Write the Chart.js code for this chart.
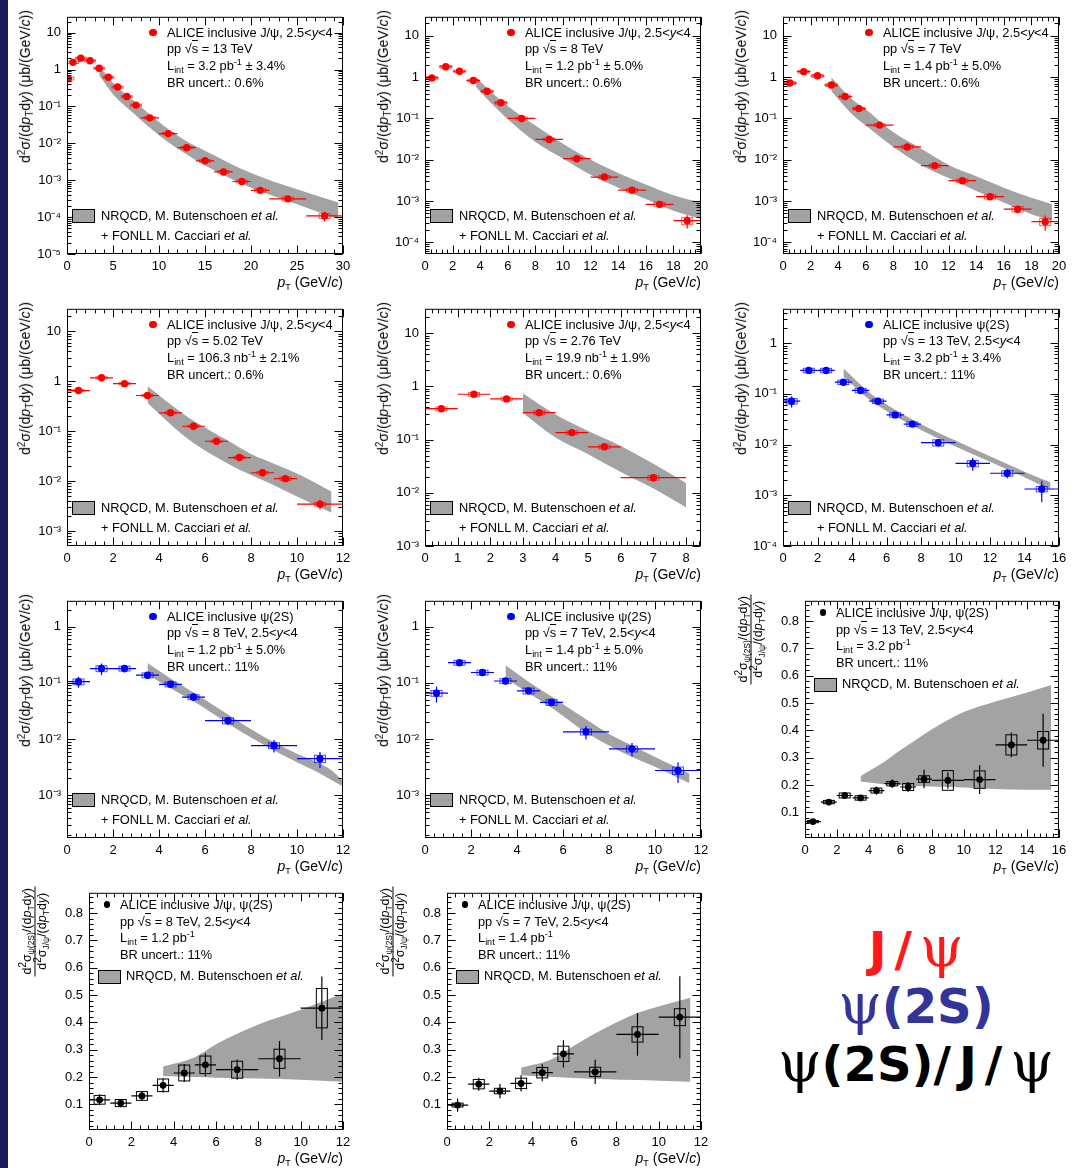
<!DOCTYPE html>
<html>
<head>
<meta charset="utf-8">
<title>ALICE inclusive J/psi and psi(2S) cross sections</title>
<script src="https://cdn.jsdelivr.net/npm/chart.js@4.4.1/dist/chart.umd.min.js"></script>
<style>
  body { margin:0; width:1084px; height:1168px; position:relative; background:#fff; overflow:hidden;
         font-family:'Liberation Sans', Arial, sans-serif; color:#000; }
  #strip { position:absolute; left:0; top:0; width:8px; height:1168px; background:#1c1c5c; }
  canvas { position:absolute; }
  .txt { position:absolute; white-space:nowrap; font-size:12.8px; line-height:14px; }
  .txt sub { font-size:9px; vertical-align:-3px; line-height:0; }
  .txt sup { font-size:9px; vertical-align:5px; line-height:0; }
  .ytl sub { font-size:10px; vertical-align:-3px; line-height:0; }
  .ytl sup { font-size:10px; vertical-align:5px; line-height:0; }
  .ov { border-top:1px solid #000; }
  .dot { position:absolute; border-radius:50%; }
  .legbox { position:absolute; background:#a3a3a3; border:1px solid #000; box-sizing:border-box; }
  .xt { font-size:14px; line-height:16px; }
  .ytitle { position:absolute; width:0; height:0; }
  .ytl { position:absolute; right:0; top:0; transform-origin:100% 0; transform:rotate(-90deg);
         white-space:nowrap; font-size:14px; line-height:16px; }
  .frac { font-size:12.5px; line-height:14px; }
  .frac sub { font-size:8.5px; }
  .frac .num { border-bottom:1px solid #000; text-align:center; padding:0 2px; }
  .frac .den { text-align:center; padding:0 2px; }
  .big { position:absolute; width:360px; left:736px; text-align:center; white-space:nowrap;
         font-family:'DejaVu Sans', Verdana, sans-serif; font-weight:bold; font-size:48px; line-height:56px; }
  .big .psi { font-family:'DejaVu Serif', 'Liberation Serif', serif; font-weight:normal; font-size:1.15em; }
  .big .sl { letter-spacing:8px; }
</style>
</head>
<body>
<div id="strip"></div>

<script>
// ─── DATA ─────────────────────────────────────────────────────
// J/psi, pp 13 TeV (ub/(GeV/c)); stat and syst are relative
const jpsi13Pt    = [0.15, 0.65, 1.5, 2.5, 3.5, 4.5, 5.5, 6.5, 7.5, 9, 11, 13, 15, 17, 19, 21, 24, 28];
const jpsi13PtErr = [0.15, 0.35, 0.5, 0.5, 0.5, 0.5, 0.5, 0.5, 0.5, 1, 1, 1, 1, 1, 1, 1, 2, 2];
const jpsi13Val   = [0.57, 1.57, 2.04, 1.74, 1.09, 0.62, 0.337, 0.186, 0.109, 0.0492, 0.0184, 0.00763, 0.00336, 0.00168, 0.000925, 0.000532, 0.000313, 0.000108];
const jpsi13Stat  = [0.05, 0.03, 0.02, 0.02, 0.02, 0.02, 0.02, 0.03, 0.03, 0.03, 0.04, 0.05, 0.07, 0.09, 0.12, 0.15, 0.15, 0.3];
const jpsi13Syst  = [0.08, 0.07, 0.06, 0.06, 0.06, 0.06, 0.06, 0.06, 0.06, 0.07, 0.07, 0.07, 0.08, 0.08, 0.09, 0.1, 0.12, 0.15];
const nrqcd13X  = [3.5, 5, 7.5, 10, 12.5, 15, 20, 25, 29.5];
const nrqcd13Hi = [1.3, 0.44, 0.129, 0.038, 0.0136, 0.00635, 0.00158, 0.000566, 0.000249];
const nrqcd13Lo = [0.7, 0.215, 0.057, 0.0166, 0.006, 0.00252, 0.000627, 0.000225, 0.0000895];

// J/psi, pp 8 TeV
const jpsi8Pt    = [0.5, 1.5, 2.5, 3.5, 4.5, 5.5, 7, 9, 11, 13, 15, 17, 19];
const jpsi8PtErr = [0.5, 0.5, 0.5, 0.5, 0.5, 0.5, 1, 1, 1, 1, 1, 1, 1];
const jpsi8Val   = [0.96, 1.79, 1.39, 0.83, 0.456, 0.24, 0.1, 0.031, 0.0106, 0.0038, 0.00183, 0.00083, 0.000334];
const jpsi8Stat  = [0.02, 0.02, 0.02, 0.02, 0.02, 0.03, 0.03, 0.04, 0.06, 0.09, 0.13, 0.18, 0.35];
const jpsi8Syst  = [0.07, 0.07, 0.07, 0.07, 0.07, 0.07, 0.08, 0.08, 0.08, 0.09, 0.1, 0.12, 0.2];
const nrqcd8X  = [3.7, 5, 6, 8, 10, 12, 14, 16, 18, 20];
const nrqcd8Hi = [1.0, 0.38, 0.2, 0.067, 0.0245, 0.01, 0.0048, 0.0025, 0.00137, 0.00091];
const nrqcd8Lo = [0.58, 0.2, 0.096, 0.027, 0.0107, 0.0043, 0.0021, 0.00112, 0.00058, 0.00037];

// J/psi, pp 7 TeV
const jpsi7Pt    = [0.5, 1.5, 2.5, 3.5, 4.5, 5.5, 7, 9, 11, 13, 15, 17, 19];
const jpsi7PtErr = [0.5, 0.5, 0.5, 0.5, 0.5, 0.5, 1, 1, 1, 1, 1, 1, 1];
const jpsi7Val   = [0.72, 1.36, 1.08, 0.645, 0.34, 0.173, 0.069, 0.0204, 0.0072, 0.0031, 0.00127, 0.000634, 0.000316];
const jpsi7Stat  = [0.02, 0.02, 0.02, 0.02, 0.03, 0.03, 0.04, 0.05, 0.07, 0.1, 0.13, 0.2, 0.4];
const jpsi7Syst  = [0.08, 0.08, 0.08, 0.08, 0.08, 0.08, 0.08, 0.09, 0.09, 0.1, 0.12, 0.15, 0.2];
const nrqcd7X  = [3.5, 5, 6, 8, 10, 12, 14, 16, 18, 19.5];
const nrqcd7Hi = [1.0, 0.29, 0.167, 0.046, 0.0186, 0.0075, 0.004, 0.0021, 0.0012, 0.00083];
const nrqcd7Lo = [0.46, 0.127, 0.067, 0.0204, 0.0075, 0.0036, 0.00175, 0.00092, 0.00048, 0.00033];

// J/psi, pp 5.02 TeV
const jpsi5Pt    = [0.5, 1.5, 2.5, 3.5, 4.5, 5.5, 6.5, 7.5, 8.5, 9.5, 11];
const jpsi5PtErr = [0.5, 0.5, 0.5, 0.5, 0.5, 0.5, 0.5, 0.5, 0.5, 0.5, 1];
const jpsi5Val   = [0.655, 1.18, 0.9, 0.52, 0.234, 0.126, 0.063, 0.0297, 0.0147, 0.0112, 0.00345];
const jpsi5Stat  = [0.02, 0.02, 0.02, 0.02, 0.03, 0.03, 0.04, 0.05, 0.07, 0.08, 0.22];
const jpsi5Syst  = [0.05, 0.05, 0.05, 0.05, 0.05, 0.05, 0.05, 0.06, 0.06, 0.08, 0.08];
const nrqcd5X  = [3.5, 5, 6, 7, 8, 9, 10, 11.5];
const nrqcd5Hi = [0.8, 0.233, 0.118, 0.065, 0.035, 0.0224, 0.0142, 0.0062];
const nrqcd5Lo = [0.37, 0.087, 0.041, 0.0224, 0.0132, 0.0083, 0.0049, 0.00232];

// J/psi, pp 2.76 TeV
const jpsi276Pt    = [0.5, 1.5, 2.5, 3.5, 4.5, 5.5, 7];
const jpsi276PtErr = [0.5, 0.5, 0.5, 0.5, 0.5, 0.5, 1];
const jpsi276Val   = [0.38, 0.71, 0.58, 0.32, 0.135, 0.073, 0.0192];
const jpsi276Stat  = [0.04, 0.03, 0.03, 0.04, 0.05, 0.08, 0.15];
const jpsi276Syst  = [0.08, 0.08, 0.08, 0.08, 0.08, 0.08, 0.1];
const nrqcd276X  = [3, 4, 5, 6, 7, 8];
const nrqcd276Hi = [0.74, 0.295, 0.145, 0.076, 0.035, 0.0153];
const nrqcd276Lo = [0.316, 0.109, 0.053, 0.0245, 0.012, 0.0053];

// psi(2S), pp 13 TeV
const psi13Pt    = [0.5, 1.5, 2.5, 3.5, 4.5, 5.5, 6.5, 7.5, 9, 11, 13, 15];
const psi13PtErr = [0.5, 0.5, 0.5, 0.5, 0.5, 0.5, 0.5, 0.5, 1, 1, 1, 1];
const psi13Val   = [0.0718, 0.291, 0.29, 0.17, 0.117, 0.0718, 0.0385, 0.0254, 0.0109, 0.00425, 0.00272, 0.00133];
const psi13Stat  = [0.25, 0.08, 0.08, 0.08, 0.08, 0.08, 0.09, 0.1, 0.12, 0.28, 0.2, 0.45];
const psi13Syst  = [0.12, 0.1, 0.1, 0.1, 0.1, 0.1, 0.1, 0.1, 0.14, 0.14, 0.12, 0.12];
const nrqcdPsi13X  = [3.5, 5, 6, 8, 10, 12, 14, 15.5];
const nrqcdPsi13Hi = [0.32, 0.107, 0.062, 0.0253, 0.012, 0.0059, 0.00293, 0.0018];
const nrqcdPsi13Lo = [0.22, 0.0775, 0.046, 0.0194, 0.0092, 0.0046, 0.00228, 0.00129];

// psi(2S), pp 8 TeV
const psi8Pt    = [0.5, 1.5, 2.5, 3.5, 4.5, 5.5, 7, 9, 11];
const psi8PtErr = [0.5, 0.5, 0.5, 0.5, 0.5, 0.5, 1, 1, 1];
const psi8Val   = [0.105, 0.18, 0.18, 0.137, 0.0944, 0.056, 0.0213, 0.0077, 0.0045];
const psi8Stat  = [0.22, 0.23, 0.15, 0.12, 0.12, 0.15, 0.15, 0.25, 0.32];
const psi8Syst  = [0.12, 0.12, 0.1, 0.1, 0.1, 0.1, 0.12, 0.12, 0.15];
const nrqcdPsi8X  = [3.5, 4.5, 5.5, 7, 8, 9, 10, 11, 11.5, 12];
const nrqcdPsi8Hi = [0.226, 0.12, 0.0675, 0.0275, 0.015, 0.0088, 0.0055, 0.00368, 0.0028, 0.0018];
const nrqcdPsi8Lo = [0.143, 0.08, 0.047, 0.019, 0.0107, 0.0063, 0.0039, 0.00246, 0.00188, 0.00144];

// psi(2S), pp 7 TeV
const psi7Pt    = [0.5, 1.5, 2.5, 3.5, 4.5, 5.5, 7, 9, 11];
const psi7PtErr = [0.5, 0.5, 0.5, 0.5, 0.5, 0.5, 1, 1, 1];
const psi7Val   = [0.0657, 0.229, 0.153, 0.108, 0.0722, 0.0452, 0.0135, 0.00673, 0.00277];
const psi7Stat  = [0.32, 0.1, 0.12, 0.12, 0.12, 0.15, 0.27, 0.27, 0.4];
const psi7Syst  = [0.12, 0.1, 0.1, 0.1, 0.12, 0.12, 0.12, 0.12, 0.15];
const nrqcdPsi7X  = [3.5, 4.5, 5.5, 7, 8, 9, 10, 11.5];
const nrqcdPsi7Hi = [0.206, 0.105, 0.0575, 0.0225, 0.0123, 0.0077, 0.0048, 0.00246];
const nrqcdPsi7Lo = [0.12, 0.066, 0.036, 0.0131, 0.0077, 0.0048, 0.00322, 0.00164];

// psi(2S)/J/psi ratios; stat and syst are absolute
const ratio13Pt    = [0.5, 1.5, 2.5, 3.5, 4.5, 5.5, 6.5, 7.5, 9, 11, 13, 15];
const ratio13PtErr = [0.5, 0.5, 0.5, 0.5, 0.5, 0.5, 0.5, 0.5, 1, 1, 1, 1];
const ratio13Val   = [0.0665, 0.138, 0.162, 0.153, 0.18, 0.205, 0.193, 0.222, 0.217, 0.22, 0.347, 0.364];
const ratio13Stat  = [0.008, 0.008, 0.01, 0.01, 0.015, 0.016, 0.018, 0.034, 0.03, 0.053, 0.045, 0.097];
const ratio13Syst  = [0.004, 0.006, 0.009, 0.008, 0.009, 0.008, 0.013, 0.012, 0.036, 0.032, 0.037, 0.032];
const nrqcdR13X  = [3.5, 5, 6, 7, 8, 10, 12, 14, 15.5];
const nrqcdR13Hi = [0.233, 0.285, 0.327, 0.366, 0.404, 0.467, 0.506, 0.539, 0.566];
const nrqcdR13Lo = [0.213, 0.203, 0.2, 0.197, 0.195, 0.191, 0.186, 0.183, 0.183];

const ratio8Pt    = [0.5, 1.5, 2.5, 3.5, 4.5, 5.5, 7, 9, 11];
const ratio8PtErr = [0.5, 0.5, 0.5, 0.5, 0.5, 0.5, 1, 1, 1];
const ratio8Val   = [0.117, 0.105, 0.131, 0.17, 0.215, 0.245, 0.227, 0.267, 0.452];
const ratio8Stat  = [0.02, 0.015, 0.018, 0.026, 0.033, 0.042, 0.037, 0.065, 0.116];
const ratio8Syst  = [0.016, 0.013, 0.016, 0.023, 0.029, 0.032, 0.031, 0.035, 0.072];
const nrqcdR8X  = [3.5, 5, 6, 8, 10, 12];
const nrqcdR8Hi = [0.239, 0.273, 0.32, 0.392, 0.446, 0.506];
const nrqcdR8Lo = [0.204, 0.2, 0.198, 0.195, 0.19, 0.183];

const ratio7Pt    = [0.5, 1.5, 2.5, 3.5, 4.5, 5.5, 7, 9, 11];
const ratio7PtErr = [0.5, 0.5, 0.5, 0.5, 0.5, 0.5, 1, 1, 1];
const ratio7Val   = [0.0976, 0.174, 0.149, 0.177, 0.216, 0.285, 0.219, 0.356, 0.419];
const ratio7Stat  = [0.024, 0.024, 0.026, 0.03, 0.031, 0.05, 0.044, 0.078, 0.15];
const ratio7Syst  = [0.007, 0.017, 0.01, 0.019, 0.019, 0.028, 0.017, 0.028, 0.031];
const nrqcdR7X  = [3.5, 5, 6, 7.5, 9, 10, 11.5];
const nrqcdR7Hi = [0.234, 0.267, 0.315, 0.38, 0.434, 0.458, 0.49];
const nrqcdR7Lo = [0.207, 0.2, 0.197, 0.192, 0.189, 0.187, 0.183];

// tick labels
const xTicks30 = [0, 5, 10, 15, 20, 25, 30];
const xTicks20 = [0, 2, 4, 6, 8, 10, 12, 14, 16, 18, 20];
const xTicks16 = [0, 2, 4, 6, 8, 10, 12, 14, 16];
const xTicks12 = [0, 2, 4, 6, 8, 10, 12];
const xTicks8  = [0, 1, 2, 3, 4, 5, 6, 7, 8];
const yTicksE5 = [1e-5, 1e-4, 1e-3, 1e-2, 1e-1, 1, 10];
const yTicksE4 = [1e-4, 1e-3, 1e-2, 1e-1, 1, 10];
const yTicksE3 = [1e-3, 1e-2, 1e-1, 1, 10];
const yTicksPsi13 = [1e-4, 1e-3, 1e-2, 1e-1, 1];
const yTicksPsi   = [1e-3, 1e-2, 1e-1, 1];
const yTicksRatio = [0.1, 0.2, 0.3, 0.4, 0.5, 0.6, 0.7, 0.8];

// ─── STYLE ────────────────────────────────────────────────────
const RED = '#ff0000', BLUE = '#0000ff', BLACK = '#000000';
const BAND = '#a3a3a3';
const YW = 48, PT = 10, PR = 14, XH = 26;   // canvas margins around the frame
const PAGE_W = 1084;

Chart.defaults.font.family = "'Liberation Sans', Arial, sans-serif";
Chart.defaults.font.size = 13;
Chart.defaults.color = '#000';

const SUP = { '-': '\u207B', '0': '\u2070', '1': '\u00B9', '2': '\u00B2', '3': '\u00B3', '4': '\u2074', '5': '\u2075', '6': '\u2076', '7': '\u2077', '8': '\u2078', '9': '\u2079' };
function logLabel(v) {
  const e = Math.round(Math.log10(v));
  if (e === 0) return '1';
  if (e === 1) return '10';
  return '10' + String(e).split('').map(c => SUP[c]).join('');
}

// error bars and systematic boxes, drawn under the markers
const errorBars = {
  id: 'errorBars',
  beforeDatasetDraw(chart, args) {
    const ds = chart.data.datasets[args.index];
    if (!ds.errors) return;
    const { ctx, chartArea: a, scales: { x, y } } = chart;
    const e = ds.errors;
    ctx.save();
    ctx.beginPath();
    ctx.rect(a.left, a.top, a.width, a.height);
    ctx.clip();
    ds.data.forEach((p, i) => {
      const px = x.getPixelForValue(p.x), py = y.getPixelForValue(p.y);
      const st = e.rel ? p.y * e.stat[i] : e.stat[i];
      const sy = e.rel ? p.y * e.syst[i] : e.syst[i];
      ctx.lineWidth = 1.2;
      ctx.strokeStyle = ds.borderColor;
      ctx.beginPath();
      ctx.moveTo(x.getPixelForValue(p.x - e.xErr[i]), py);
      ctx.lineTo(x.getPixelForValue(p.x + e.xErr[i]), py);
      ctx.moveTo(px, y.getPixelForValue(p.y - st));
      ctx.lineTo(px, y.getPixelForValue(p.y + st));
      ctx.stroke();
      const top = y.getPixelForValue(p.y + sy), bot = y.getPixelForValue(p.y - sy);
      ctx.strokeStyle = e.box;
      ctx.lineWidth = 1;
      ctx.strokeRect(px - 5.5, top, 11, Math.max(bot - top, 2));
    });
    ctx.restore();
  }
};

// frame with inward ticks on all four sides
const rootFrame = {
  id: 'rootFrame',
  afterDatasetsDraw(chart, args, o) {
    const { ctx, chartArea: a, scales: { x, y } } = chart;
    ctx.save();
    ctx.strokeStyle = '#000';
    ctx.lineWidth = 1;
    const L = a.left + 0.5, R = a.right - 0.5, T = a.top + 0.5, B = a.bottom - 0.5;
    ctx.strokeRect(L, T, R - L, B - T);
    ctx.beginPath();
    const xTick = (v, len) => {
      const px = Math.round(x.getPixelForValue(v)) + 0.5;
      ctx.moveTo(px, B); ctx.lineTo(px, B - len);
      ctx.moveTo(px, T); ctx.lineTo(px, T + len);
    };
    const yTick = (v, len) => {
      const py = Math.round(y.getPixelForValue(v)) + 0.5;
      ctx.moveTo(L, py); ctx.lineTo(L + len, py);
      ctx.moveTo(R, py); ctx.lineTo(R - len, py);
    };
    for (let k = 0; k * o.xMinor <= x.max + 1e-9; k++) xTick(k * o.xMinor, 4);
    x.ticks.forEach(t => xTick(t.value, 8));
    if (y.type === 'logarithmic') {
      for (let e = Math.floor(Math.log10(y.min)); e <= Math.ceil(Math.log10(y.max)); e++) {
        for (let m = 2; m < 10; m++) {
          const v = m * Math.pow(10, e);
          if (v > y.min && v < y.max) yTick(v, 4);
        }
      }
    } else {
      for (let k = Math.ceil(y.min / o.yMinor); k * o.yMinor <= y.max; k++) yTick(k * o.yMinor, 4);
    }
    y.ticks.forEach(t => yTick(t.value, 8));
    ctx.stroke();
    ctx.restore();
  }
};

// ─── PANELS ───────────────────────────────────────────────────
const rootS = 'pp &radic;<span class="ov">s</span>';
const yrange = '2.5&lt;<i>y</i>&lt;4';

const panels = [
  { left: 67, top: 13, w: 276, h: 241, xMax: 30, xTicks: xTicks30, xMinor: 1,
    yMin: 1e-5, yMax: 27, yTicks: yTicksE5, color: RED,
    pt: jpsi13Pt, ptErr: jpsi13PtErr, val: jpsi13Val, stat: jpsi13Stat, syst: jpsi13Syst,
    bandX: nrqcd13X, bandHi: nrqcd13Hi, bandLo: nrqcd13Lo,
    legend: ['ALICE inclusive J/&psi;, ' + yrange, rootS + ' = 13 TeV', 'L<sub>int</sub> = 3.2 pb<sup>-1</sup> &plusmn; 3.4%', 'BR uncert.: 0.6%'] },
  { left: 425, top: 13, w: 276, h: 241, xMax: 20, xTicks: xTicks20, xMinor: 0.4,
    yMin: 5.2e-5, yMax: 29, yTicks: yTicksE4, color: RED,
    pt: jpsi8Pt, ptErr: jpsi8PtErr, val: jpsi8Val, stat: jpsi8Stat, syst: jpsi8Syst,
    bandX: nrqcd8X, bandHi: nrqcd8Hi, bandLo: nrqcd8Lo,
    legend: ['ALICE inclusive J/&psi;, ' + yrange, rootS + ' = 8 TeV', 'L<sub>int</sub> = 1.2 pb<sup>-1</sup> &plusmn; 5.0%', 'BR uncert.: 0.6%'] },
  { left: 783, top: 13, w: 276, h: 241, xMax: 20, xTicks: xTicks20, xMinor: 0.4,
    yMin: 5.2e-5, yMax: 29, yTicks: yTicksE4, color: RED,
    pt: jpsi7Pt, ptErr: jpsi7PtErr, val: jpsi7Val, stat: jpsi7Stat, syst: jpsi7Syst,
    bandX: nrqcd7X, bandHi: nrqcd7Hi, bandLo: nrqcd7Lo,
    legend: ['ALICE inclusive J/&psi;, ' + yrange, rootS + ' = 7 TeV', 'L<sub>int</sub> = 1.4 pb<sup>-1</sup> &plusmn; 5.0%', 'BR uncert.: 0.6%'] },
  { left: 67, top: 305, w: 276, h: 241, xMax: 12, xTicks: xTicks12, xMinor: 0.4,
    yMin: 5e-4, yMax: 28.5, yTicks: yTicksE3, color: RED,
    pt: jpsi5Pt, ptErr: jpsi5PtErr, val: jpsi5Val, stat: jpsi5Stat, syst: jpsi5Syst,
    bandX: nrqcd5X, bandHi: nrqcd5Hi, bandLo: nrqcd5Lo,
    legend: ['ALICE inclusive J/&psi;, ' + yrange, rootS + ' = 5.02 TeV', 'L<sub>int</sub> = 106.3 nb<sup>-1</sup> &plusmn; 2.1%', 'BR uncert.: 0.6%'] },
  { left: 425, top: 305, w: 276, h: 241, xMax: 8.46, xTicks: xTicks8, xMinor: 0.2,
    yMin: 1e-3, yMax: 28.6, yTicks: yTicksE3, color: RED,
    pt: jpsi276Pt, ptErr: jpsi276PtErr, val: jpsi276Val, stat: jpsi276Stat, syst: jpsi276Syst,
    bandX: nrqcd276X, bandHi: nrqcd276Hi, bandLo: nrqcd276Lo,
    legend: ['ALICE inclusive J/&psi;, ' + yrange, rootS + ' = 2.76 TeV', 'L<sub>int</sub> = 19.9 nb<sup>-1</sup> &plusmn; 1.9%', 'BR uncert.: 0.6%'] },
  { left: 783, top: 305, w: 276, h: 241, xMax: 16, xTicks: xTicks16, xMinor: 0.4,
    yMin: 1e-4, yMax: 4.77, yTicks: yTicksPsi13, color: BLUE,
    pt: psi13Pt, ptErr: psi13PtErr, val: psi13Val, stat: psi13Stat, syst: psi13Syst,
    bandX: nrqcdPsi13X, bandHi: nrqcdPsi13Hi, bandLo: nrqcdPsi13Lo,
    legend: ['ALICE inclusive &psi;(2S)', rootS + ' = 13 TeV, ' + yrange, 'L<sub>int</sub> = 3.2 pb<sup>-1</sup> &plusmn; 3.4%', 'BR uncert.: 11%'] },
  { left: 67, top: 597, w: 276, h: 241, xMax: 12, xTicks: xTicks12, xMinor: 0.4,
    yMin: 1.75e-4, yMax: 2.88, yTicks: yTicksPsi, color: BLUE,
    pt: psi8Pt, ptErr: psi8PtErr, val: psi8Val, stat: psi8Stat, syst: psi8Syst,
    bandX: nrqcdPsi8X, bandHi: nrqcdPsi8Hi, bandLo: nrqcdPsi8Lo,
    legend: ['ALICE inclusive &psi;(2S)', rootS + ' = 8 TeV, ' + yrange, 'L<sub>int</sub> = 1.2 pb<sup>-1</sup> &plusmn; 5.0%', 'BR uncert.: 11%'] },
  { left: 425, top: 597, w: 276, h: 241, xMax: 12, xTicks: xTicks12, xMinor: 0.4,
    yMin: 1.75e-4, yMax: 2.88, yTicks: yTicksPsi, color: BLUE,
    pt: psi7Pt, ptErr: psi7PtErr, val: psi7Val, stat: psi7Stat, syst: psi7Syst,
    bandX: nrqcdPsi7X, bandHi: nrqcdPsi7Hi, bandLo: nrqcdPsi7Lo,
    legend: ['ALICE inclusive &psi;(2S)', rootS + ' = 7 TeV, ' + yrange, 'L<sub>int</sub> = 1.4 pb<sup>-1</sup> &plusmn; 5.0%', 'BR uncert.: 11%'] },
  { left: 805, top: 597, w: 254, h: 241, xMax: 16, xTicks: xTicks16, xMinor: 0.4, ratio: true,
    yMin: 0.0065, yMax: 0.874, yTicks: yTicksRatio, yMinor: 0.02, color: BLACK,
    pt: ratio13Pt, ptErr: ratio13PtErr, val: ratio13Val, stat: ratio13Stat, syst: ratio13Syst,
    bandX: nrqcdR13X, bandHi: nrqcdR13Hi, bandLo: nrqcdR13Lo,
    legend: ['ALICE inclusive J/&psi;, &psi;(2S)', rootS + ' = 13 TeV, ' + yrange, 'L<sub>int</sub> = 3.2 pb<sup>-1</sup>', 'BR uncert.: 11%'] },
  { left: 89, top: 889, w: 254, h: 241, xMax: 12, xTicks: xTicks12, xMinor: 0.4, ratio: true,
    yMin: 0.0065, yMax: 0.874, yTicks: yTicksRatio, yMinor: 0.02, color: BLACK,
    pt: ratio8Pt, ptErr: ratio8PtErr, val: ratio8Val, stat: ratio8Stat, syst: ratio8Syst,
    bandX: nrqcdR8X, bandHi: nrqcdR8Hi, bandLo: nrqcdR8Lo,
    legend: ['ALICE inclusive J/&psi;, &psi;(2S)', rootS + ' = 8 TeV, ' + yrange, 'L<sub>int</sub> = 1.2 pb<sup>-1</sup>', 'BR uncert.: 11%'] },
  { left: 447, top: 889, w: 254, h: 241, xMax: 12, xTicks: xTicks12, xMinor: 0.4, ratio: true,
    yMin: 0.0065, yMax: 0.874, yTicks: yTicksRatio, yMinor: 0.02, color: BLACK,
    pt: ratio7Pt, ptErr: ratio7PtErr, val: ratio7Val, stat: ratio7Stat, syst: ratio7Syst,
    bandX: nrqcdR7X, bandHi: nrqcdR7Hi, bandLo: nrqcdR7Lo,
    legend: ['ALICE inclusive J/&psi;, &psi;(2S)', rootS + ' = 7 TeV, ' + yrange, 'L<sub>int</sub> = 1.4 pb<sup>-1</sup>', 'BR uncert.: 11%'] }
];

function chartConfig(p) {
  const r = p.ratio ? 3.4 : 3.7;
  const points = p.pt.map((x, i) => ({ x, y: p.val[i] }));
  const hi = p.bandX.map((x, i) => ({ x, y: p.bandHi[i] }));
  const lo = p.bandX.map((x, i) => ({ x, y: p.bandLo[i] }));
  const boxColor = p.color === RED ? 'rgba(255,0,0,0.65)' : p.color === BLUE ? 'rgba(0,0,255,0.7)' : '#000';
  const hidden = { display: false, drawTicks: false, tickLength: 0 };
  return {
    type: 'scatter',
    data: {
      datasets: [
        { data: points, backgroundColor: p.color, borderColor: p.color, pointRadius: r, pointBorderWidth: 0,
          errors: { xErr: p.ptErr, stat: p.stat, syst: p.syst, rel: !p.ratio, box: boxColor } },
        { type: 'line', data: hi, fill: '+1', backgroundColor: BAND, borderColor: 'rgba(0,0,0,0)',
          borderWidth: 0, pointRadius: 0, cubicInterpolationMode: 'monotone' },
        { type: 'line', data: lo, fill: false, borderColor: 'rgba(0,0,0,0)',
          borderWidth: 0, pointRadius: 0, cubicInterpolationMode: 'monotone' }
      ]
    },
    options: {
      responsive: false, animation: false, devicePixelRatio: 1, events: [],
      layout: { padding: { left: 0, top: PT, right: PR, bottom: 0 } },
      plugins: { legend: { display: false }, tooltip: { enabled: false },
                 rootFrame: { xMinor: p.xMinor, yMinor: p.yMinor } },
      scales: {
        x: { type: 'linear', min: 0, max: p.xMax,
             grid: hidden, border: { display: false },
             ticks: { padding: 5, autoSkip: false, maxRotation: 0 },
             afterBuildTicks: s => { s.ticks = p.xTicks.map(value => ({ value })); },
             afterFit: s => { s.height = XH; } },
        y: { type: p.ratio ? 'linear' : 'logarithmic', min: p.yMin, max: p.yMax,
             grid: hidden, border: { display: false },
             ticks: { padding: 6, autoSkip: false, callback: p.ratio ? v => v.toFixed(1) : logLabel },
             afterBuildTicks: s => { s.ticks = p.yTicks.map(value => ({ value })); },
             afterFit: s => { s.width = YW; } }
      }
    },
    plugins: [errorBars, rootFrame]
  };
}

function addDiv(cls, html, css) {
  const d = document.createElement('div');
  d.className = cls;
  d.innerHTML = html;
  Object.assign(d.style, css);
  document.body.appendChild(d);
  return d;
}
const px = v => v + 'px';

panels.forEach(p => {
  const cv = document.createElement('canvas');
  const cw = YW + p.w + PR, ch = PT + p.h + XH;
  cv.width = cw; cv.height = ch;
  Object.assign(cv.style, { left: px(p.left - YW), top: px(p.top - PT), width: px(cw), height: px(ch) });
  document.body.appendChild(cv);
  new Chart(cv, chartConfig(p));

  const r = p.ratio ? 3.4 : 3.7;
  // legend block
  const mx = p.ratio ? 18 : 86, my = p.ratio ? 15.7 : 19.5, tx = p.ratio ? 31 : 100;
  addDiv('dot', '', { left: px(p.left + mx - r), top: px(p.top + my - r), width: px(2 * r), height: px(2 * r), background: p.color });
  p.legend.forEach((line, i) => {
    addDiv('txt', line, { left: px(p.left + tx), top: px(p.top + my + 16.8 * i - 7) });
  });
  if (p.ratio) {
    addDiv('legbox', '', { left: px(p.left + 8.7), top: px(p.top + 81), width: px(23), height: px(14) });
    addDiv('txt', 'NRQCD, M. Butenschoen <i>et al.</i>', { left: px(p.left + 37), top: px(p.top + 87.3 - 7) });
  } else {
    addDiv('legbox', '', { left: px(p.left + 5), top: px(p.top + 195.5), width: px(23), height: px(14.5) });
    addDiv('txt', 'NRQCD, M. Butenschoen <i>et al.</i>', { left: px(p.left + 34), top: px(p.top + 202.5 - 7) });
    addDiv('txt', '+ FONLL M. Cacciari <i>et al.</i>', { left: px(p.left + 34), top: px(p.top + 223 - 7) });
  }

  // axis titles
  addDiv('txt xt', '<i>p</i><sub>T</sub> (GeV/<i>c</i>)', { right: px(PAGE_W - (p.left + p.w)), top: px(p.top + p.h + 27.7 - 8) });
  const yt = addDiv('ytitle', '', {});
  if (p.ratio) {
    Object.assign(yt.style, { left: px(p.left - 54 - 14.5), top: px(p.top - 3) });
    yt.innerHTML = '<div class="ytl frac"><div class="num">d<sup>2</sup>&sigma;<sub>&psi;(2S)</sub>/(d<i>p</i><sub>T</sub>d<i>y</i>)</div>' +
                   '<div class="den">d<sup>2</sup>&sigma;<sub>J/&psi;</sub>/(d<i>p</i><sub>T</sub>d<i>y</i>)</div></div>';
  } else {
    Object.assign(yt.style, { left: px(p.left - 42.5 - 8), top: px(p.top - 3) });
    yt.innerHTML = '<div class="ytl">d<sup>2</sup>&sigma;/(d<i>p</i><sub>T</sub>d<i>y</i>) (&mu;b/(GeV/<i>c</i>))</div>';
  }
});

// particle key in the empty corner
addDiv('big', '<span class="sl">J/</span><span class="psi">&psi;</span>', { top: '919px', color: '#ff1a1a' });
addDiv('big', '<span class="psi">&psi;</span>(2S)', { top: '976px', color: '#333399' });
addDiv('big', '<span class="psi">&psi;</span>(2S)<span class="sl">/J/</span><span class="psi">&psi;</span>', { top: '1034px', color: '#000' });
</script>
</body>
</html>
